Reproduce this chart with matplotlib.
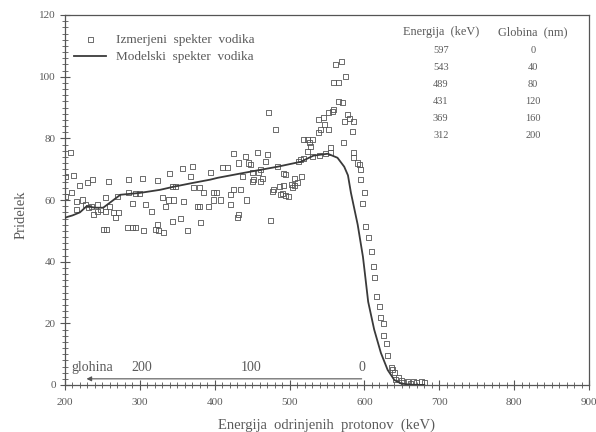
import matplotlib
matplotlib.use("Agg")
import matplotlib.pyplot as plt
from matplotlib.ticker import MultipleLocator

# ---- data ----
meas_E = [200, 200, 207, 211, 209, 216, 220, 224, 230, 231, 237, 238, 244, 243, 251, 254, 254, 255,
          258, 265, 267, 270, 272, 283, 285, 285, 290, 290, 294, 294, 300, 303, 305, 307, 316, 321,
          323, 323, 325, 330, 331, 334, 338, 339, 343, 343, 345, 347, 354, 357, 358, 363, 368, 370,
          372, 377, 380, 380, 381, 385, 392, 394, 398, 398, 403, 408, 410, 417, 421, 421, 425, 425,
          430, 432, 432, 435, 437, 441, 443, 445, 448, 450, 450, 452, 457, 459, 461, 461, 464, 468,
          471, 472, 475, 477, 478, 481, 484, 486, 488, 491, 492, 492, 495, 495, 498, 502, 504, 506,
          506, 511, 512, 515, 516, 518, 519, 524, 524, 526, 528, 530, 531, 538, 538, 540, 541, 545,
          546, 548, 552, 552, 555, 555, 558, 559, 559, 562, 565, 565, 569, 571, 572, 573, 575, 578,
          580, 584, 586, 586, 586, 591, 593, 595, 595, 598, 600, 602, 605, 609, 612, 613, 616, 620,
          622, 625, 625, 629, 631, 636, 638, 640, 642, 645, 649, 652, 658, 662, 666, 670, 676, 680,
          215, 228, 236, 247, 260]
meas_Y = [67.5, 61, 75.3, 67.8, 62.3, 59.4, 64.6, 60, 65.6, 57.5, 66.6, 55.2, 58.4, 56.2, 50.3, 60.7, 56.2, 50.3,
          65.9, 56, 54.2, 61, 56, 51, 66.6, 62.3, 59, 51, 62, 51, 62, 66.9, 50, 58.4, 56.2, 50.5,
          66.2, 52, 50, 60.7, 49.3, 57.8, 60, 68.5, 64.3, 53, 60, 64.3, 54, 70.1, 59.4, 50, 67.5, 70.8,
          64, 57.8, 57.8, 64, 52.6, 62.3, 58, 68.8, 62.3, 60, 62.3, 60, 70.5, 70.5, 58.4, 61.7, 75, 63.3,
          54.2, 72, 55.2, 63.3, 67.5, 74, 60, 72, 71.4, 66, 68.8, 66.5, 75.3, 68.8, 65.9, 69.8, 67, 72.4,
          74.7, 88.3, 53.4, 62.7, 63.3, 82.8, 70.8, 64.5, 61.7, 62, 68.5, 64.6, 68.2, 61.5, 61, 64.9, 64, 64.6,
          67, 65.6, 72.4, 73, 67.5, 73.5, 79.5, 75.6, 79.5, 78.6, 77.3, 74, 79.5, 81.8, 86, 74.5, 82.8, 86.7,
          84.4, 75, 82.8, 88.3, 77, 75.5, 88.6, 89.3, 98, 103.9, 98, 92, 104.9, 91.6, 78.6, 85.4, 100, 87.7,
          86.4, 82.1, 85.4, 75.3, 73.7, 72, 71.4, 69.8, 66.6, 59, 62.3, 51.3, 47.7, 43.2, 38.3, 35, 28.6, 25.3,
          21.8, 20, 16.2, 13.6, 9.7, 5.8, 4.9, 3.9, 1.8, 2.5, 1.5, 0.8, 1.2, 0.5, 1, 0.8, 1, 0.8,
          57, 58.5, 58, 57, 58]

model_E = [200, 203, 210, 220, 229, 240, 251, 262, 274, 300, 327, 345, 372, 394, 404, 439, 484, 515,
           532, 551, 564, 573, 578, 582, 591, 598, 600, 605, 613, 622, 631, 640, 649, 660, 680]
model_Y = [54.2, 54.5, 55, 56, 58, 57.5, 57.5, 59.5, 61.7, 62.3, 63.3, 64.3, 65.6, 66.6, 67.2, 68.8, 70.8, 72.4,
           74.4, 75, 73.7, 70.8, 68, 62.3, 52, 41.6, 37.5, 27, 18, 10.4, 4.9, 1.6, 0.5, 0.1, 0]

table_E = ["597", "543", "489", "431", "369", "312"]
table_D = ["0", "40", "80", "120", "160", "200"]

depth_E = [597, 448, 303]
depth_lab = ["0", "100", "200"]

# ---- style ----
plt.rcParams['font.family'] = ['Liberation Serif', 'DejaVu Serif']
ink = '#555555'
txt = '#5a5a5a'

fig = plt.figure(figsize=(5.96, 4.32), dpi=100)
ax = fig.add_axes([65/596, 1-385/432, (589-65)/596, (385-15)/432])

ax.plot(model_E, model_Y, color='#3a3a3a', lw=1.3, zorder=3, label='Modelski  spekter  vodika')
ax.scatter(meas_E, meas_Y, marker='s', s=13, facecolors='none', edgecolors='#555555',
           linewidths=0.6, zorder=2, label='Izmerjeni  spekter  vodika')

ax.set_xlim(200, 900)
ax.set_ylim(0, 120)
ax.xaxis.set_major_locator(MultipleLocator(100))
ax.xaxis.set_minor_locator(MultipleLocator(10))
ax.yaxis.set_major_locator(MultipleLocator(20))
ax.yaxis.set_minor_locator(MultipleLocator(2))
ax.tick_params(axis='both', which='major', direction='inout', length=7, width=0.8,
               color=ink, labelcolor=txt, labelsize=8)
ax.tick_params(axis='both', which='minor', direction='inout', length=4, width=0.6, color=ink)
ax.tick_params(axis='x', pad=6)
ax.tick_params(axis='y', pad=3)
for s in ax.spines.values():
    s.set_color(ink)
    s.set_linewidth(0.9)

ax.set_xlabel('Energija  odrinjenih  protonov  (keV)', color=txt, fontsize=10.5, labelpad=8)
ax.set_ylabel('Pridelek', color=txt, fontsize=10.5)
ax.yaxis.set_label_coords(-0.072, 0.46)

# legend
h, l = ax.get_legend_handles_labels()
leg = ax.legend([h[1], h[0]], [l[1], l[0]], loc='upper left', bbox_to_anchor=(0.0, 0.975),
                frameon=False, fontsize=9.5, handlelength=2.4, labelcolor=txt,
                borderaxespad=0.3, handletextpad=0.8, labelspacing=0.4)

# table
ax.text(0.717, 0.953, 'Energija  (keV)', transform=ax.transAxes, ha='center', va='center',
        fontsize=8.8, color=txt)
ax.text(0.893, 0.953, 'Globina  (nm)', transform=ax.transAxes, ha='center', va='center',
        fontsize=8.8, color=txt)
for i, (e, d) in enumerate(zip(table_E, table_D)):
    yy = 0.903 - i * 0.046
    ax.text(0.717, yy, e, transform=ax.transAxes, ha='center', va='center', fontsize=7.5, color=txt)
    ax.text(0.893, yy, d, transform=ax.transAxes, ha='center', va='center', fontsize=7.5, color=txt)

# depth arrow
ax.annotate('', xy=(225, 2), xytext=(600, 2),
            arrowprops=dict(arrowstyle='-|>', color='#555555', lw=0.8, mutation_scale=7))
for e, lab in zip(depth_E, depth_lab):
    ax.text(e, 3.6, lab, ha='center', va='bottom', fontsize=10, color=txt)
ax.text(209, 3.6, 'glohina', ha='left', va='bottom', fontsize=10, color=txt)

fig.savefig('out.png', dpi=100)
